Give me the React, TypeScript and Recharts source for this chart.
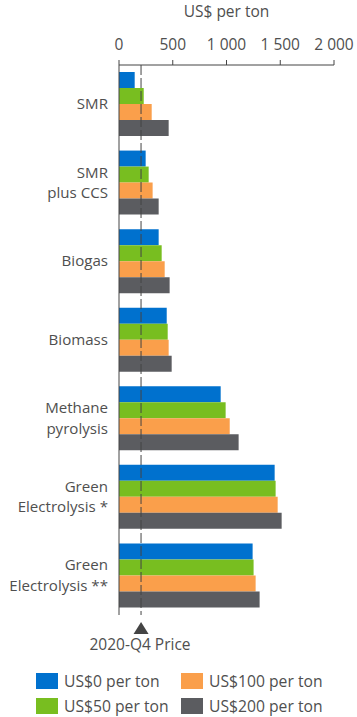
import React from 'react';
import { BarChart, Bar, XAxis, YAxis, ReferenceLine } from 'recharts';

const categories = ['SMR', 'SMR\nplus CCS', 'Biogas', 'Biomass', 'Methane\npyrolysis', 'Green\nElectrolysis *', 'Green\nElectrolysis **'];
const cost0 = [146, 248, 369, 444, 946, 1448, 1243];
const cost50 = [230, 276, 397, 453, 992, 1457, 1252];
const cost100 = [304, 313, 425, 462, 1030, 1476, 1271];
const cost200 = [462, 369, 471, 490, 1113, 1513, 1308];
const xTicks = [0, 500, 1000, 1500, 2000];
const priceLine = 205;
const priceLabel = '2020-Q4 Price';
const axisTitle = 'US$ per ton';

const seriesNames = ['US$0 per ton', 'US$50 per ton', 'US$100 per ton', 'US$200 per ton'];
const seriesKeys = ['c0', 'c50', 'c100', 'c200'];
const seriesColors = ['#0071CE', '#78BE20', '#FA9F4B', '#5B5C60'];

const data = categories.map((name, i) => ({
  name,
  c0: cost0[i],
  c50: cost50[i],
  c100: cost100[i],
  c200: cost200[i],
}));

const TEXT = '#4f4f4f';
const AXIS = '#444';
const FONT = '"Open Sans", sans-serif';
const LINE_H = 20.6;

const fmt = (v: number) => (v >= 1000 ? `${Math.floor(v / 1000)} ${String(v % 1000).padStart(3, '0')}` : String(v));

const YTick = (props: any) => {
  const { y, payload } = props;
  const lines = String(payload.value).split('\n');
  const first = 5 - (LINE_H / 2) * (lines.length - 1);
  return (
    <g>
      {lines.map((l, i) => (
        <text key={i} x={108} y={y + first + LINE_H * i} textAnchor="end" fill={TEXT} fontSize={15.1} fontFamily={FONT}>
          {l}
        </text>
      ))}
    </g>
  );
};

const TitleLabel = (props: any) => {
  const vb = props.viewBox || { x: 119, y: 0, width: 215, height: 65 };
  return (
    <text x={vb.x + vb.width / 2} y={17} textAnchor="middle" fill={TEXT} fontSize={15.5} fontFamily={FONT}>
      {axisTitle}
    </text>
  );
};

const PriceLabel = (props: any) => {
  const vb = props.viewBox || { x: 141, y: 65, width: 0, height: 550 };
  const cx = vb.x;
  const bottom = vb.y + vb.height;
  return (
    <g>
      <polygon points={`${cx},${bottom + 7} ${cx - 7.5},${bottom + 19} ${cx + 7.5},${bottom + 19}`} fill="#444" />
      <text x={cx - 1} y={bottom + 35} textAnchor="middle" fill={TEXT} fontSize={15.5} fontFamily={FONT}>
        {priceLabel}
      </text>
    </g>
  );
};

export default function App() {
  return (
    <div style={{ position: 'absolute', left: 0, top: 0, width: 357, height: 717, background: '#fff', fontFamily: FONT }}>
      <BarChart
        width={357}
        height={717}
        data={data}
        layout="vertical"
        margin={{ top: 0, right: 23, bottom: 102, left: 0 }}
        barGap={0}
        style={{ fontFamily: FONT }}
      >
        <XAxis
          type="number"
          orientation="top"
          domain={[0, 2000]}
          ticks={xTicks}
          tickFormatter={fmt}
          height={65}
          tickSize={5}
          tickMargin={10}
          stroke={AXIS}
          tick={{ fill: TEXT, fontSize: 15.5, fontFamily: FONT }}
          interval={0}
          label={{ content: TitleLabel }}
        />
        <YAxis
          type="category"
          dataKey="name"
          width={119}
          tickLine={false}
          stroke={AXIS}
          tick={YTick}
          interval={0}
        />
        {seriesKeys.map((k, i) => (
          <Bar key={k} dataKey={k} name={seriesNames[i]} fill={seriesColors[i]} barSize={16} isAnimationActive={false} />
        ))}
        <ReferenceLine x={priceLine} stroke="#444" strokeDasharray="10 3" strokeWidth={1} label={{ content: PriceLabel }} />
      </BarChart>
      {seriesNames.map((n, i) => {
        const col = i === 0 || i === 1 ? 0 : 1;
        const row = i === 0 || i === 2 ? 0 : 1;
        const left = col === 0 ? 36 : 181;
        const top = row === 0 ? 673 : 698;
        return (
          <div key={n} style={{ position: 'absolute', left, top, height: 16, display: 'flex', alignItems: 'center', whiteSpace: 'nowrap' }}>
            <div style={{ width: 22, height: 16, background: seriesColors[i] }} />
            <span style={{ marginLeft: 6, fontSize: 15.7, color: TEXT, fontFamily: FONT, lineHeight: '16px' }}>{n}</span>
          </div>
        );
      })}
    </div>
  );
}
